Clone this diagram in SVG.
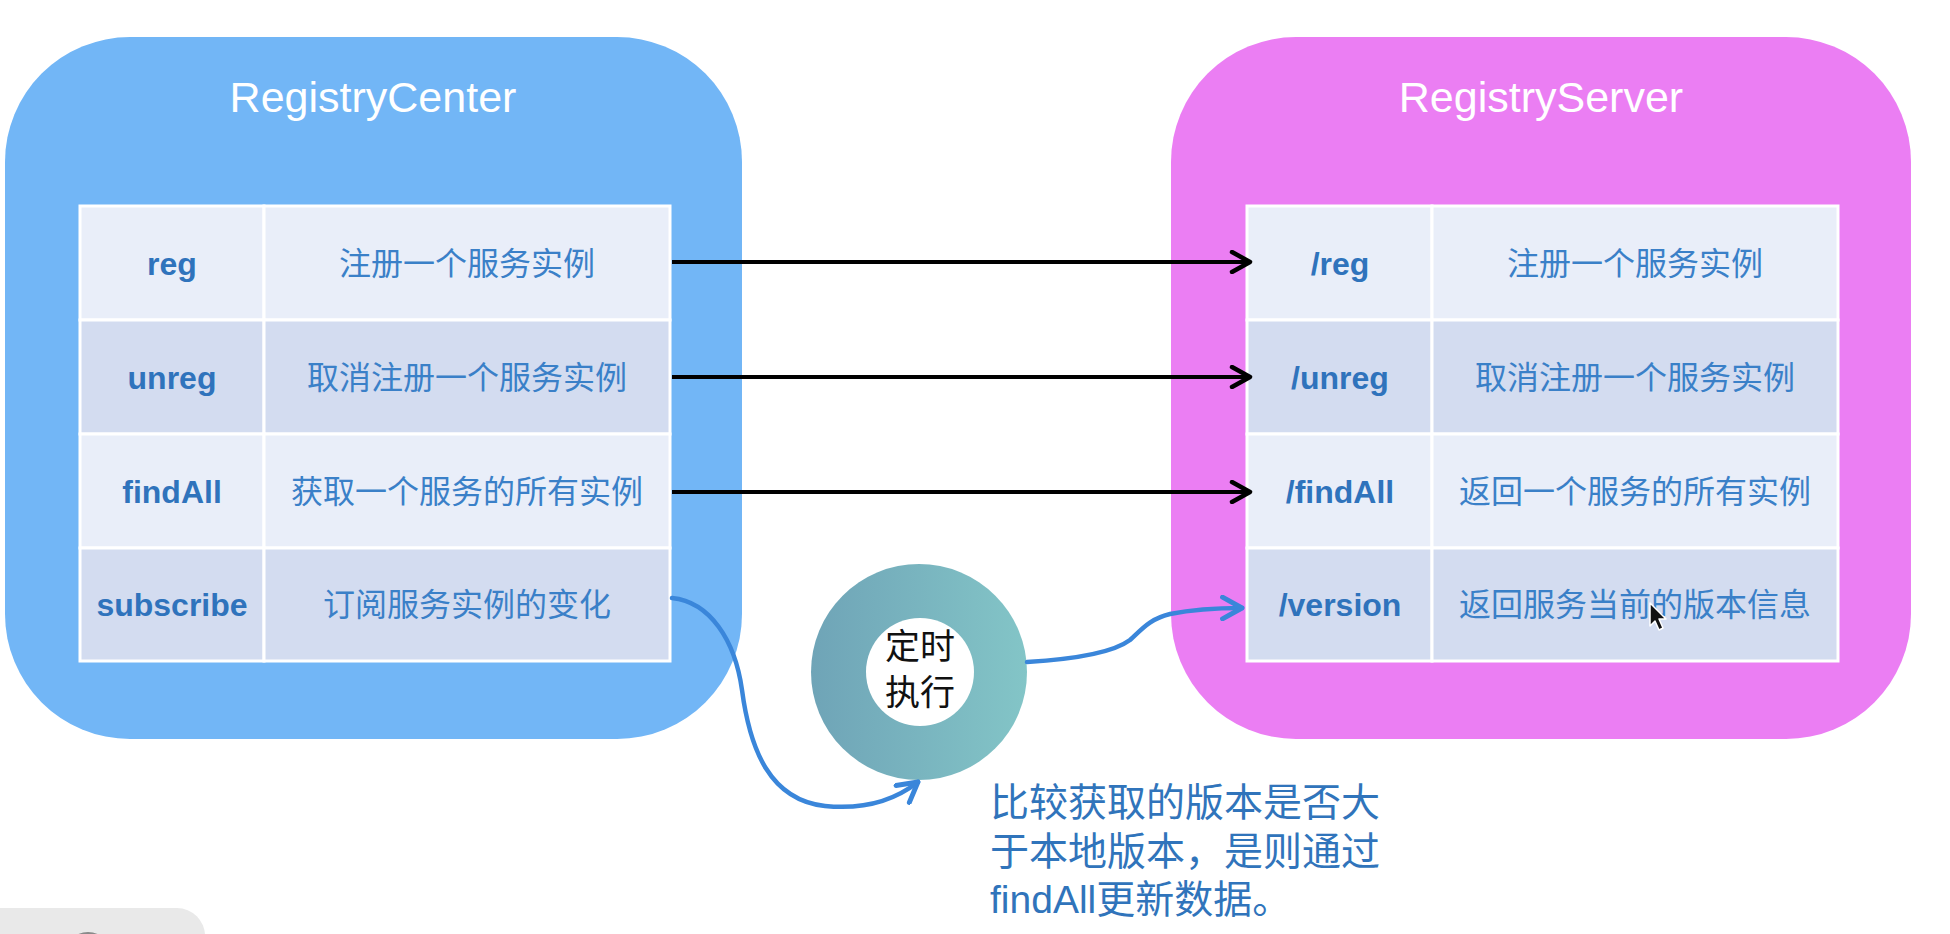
<svg xmlns="http://www.w3.org/2000/svg" width="1950" height="934" viewBox="0 0 1950 934">
<defs>
<style>
.title{font-family:"Liberation Sans","Noto Sans",sans-serif;font-size:43px;fill:#ffffff;text-anchor:middle}
.key{font-family:"Liberation Sans","Noto Sans",sans-serif;font-size:32px;font-weight:bold;fill:#2F73BC;text-anchor:middle}
.desc{font-family:"Liberation Sans","Noto Sans CJK SC",sans-serif;font-size:32px;fill:#3A80C8;text-anchor:middle}
.c1{fill:#E9EEF9;stroke:#ffffff;stroke-width:3}
.c2{fill:#D3DCF0;stroke:#ffffff;stroke-width:3}
.blk{fill:none;stroke:#000000;stroke-width:4}
.blu{fill:none;stroke:#3A86DA;stroke-width:4.5;stroke-linecap:round}
.note{font-family:"Liberation Sans","Noto Sans CJK SC",sans-serif;font-size:39px;fill:#3074BB}
.ring{font-family:"Liberation Sans","Noto Sans CJK SC",sans-serif;font-size:35px;fill:#111111;text-anchor:middle}
</style>
<marker id="ab" viewBox="0 0 24 24" refX="21" refY="12" markerWidth="24" markerHeight="24" markerUnits="userSpaceOnUse" orient="auto">
<path d="M3,2 L21,12 L3,22" fill="none" stroke="#000000" stroke-width="4.5" stroke-linecap="round" stroke-linejoin="round"/>
</marker>
<marker id="au" viewBox="0 0 24 24" refX="21" refY="12" markerWidth="26" markerHeight="26" markerUnits="userSpaceOnUse" orient="auto">
<path d="M3,2 L21,12 L3,22" fill="none" stroke="#3A86DA" stroke-width="4.5" stroke-linecap="round" stroke-linejoin="round"/>
</marker>
<linearGradient id="rg" gradientUnits="userSpaceOnUse" x1="811" y1="0" x2="1027" y2="0">
<stop offset="0" stop-color="#6FA4B7"/>
<stop offset="1" stop-color="#83C5C7"/>
</linearGradient>
</defs>
<rect width="1950" height="934" fill="#ffffff"/>

<g id="registry-center">
<rect x="5" y="37" width="737" height="702" rx="125" fill="#72B6F6"/>
<text class="title" x="373" y="112">RegistryCenter</text>
<rect class="c1" x="80" y="206" width="184" height="114"/>
<rect class="c1" x="264" y="206" width="406" height="114"/>
<rect class="c2" x="80" y="320" width="184" height="114"/>
<rect class="c2" x="264" y="320" width="406" height="114"/>
<rect class="c1" x="80" y="434" width="184" height="114"/>
<rect class="c1" x="264" y="434" width="406" height="114"/>
<rect class="c2" x="80" y="548" width="184" height="113"/>
<rect class="c2" x="264" y="548" width="406" height="113"/>
<text class="key" x="172" y="275">reg</text>
<text class="desc" x="467" y="275">注册一个服务实例</text>
<text class="key" x="172" y="389">unreg</text>
<text class="desc" x="467" y="389">取消注册一个服务实例</text>
<text class="key" x="172" y="503">findAll</text>
<text class="desc" x="467" y="503">获取一个服务的所有实例</text>
<text class="key" x="172" y="616">subscribe</text>
<text class="desc" x="467" y="616">订阅服务实例的变化</text>
</g>

<g id="registry-server">
<rect x="1171" y="37" width="740" height="702" rx="125" fill="#EB7EF3"/>
<text class="title" x="1541" y="112">RegistryServer</text>
<rect class="c1" x="1247" y="206" width="185" height="114"/>
<rect class="c1" x="1432" y="206" width="406" height="114"/>
<rect class="c2" x="1247" y="320" width="185" height="114"/>
<rect class="c2" x="1432" y="320" width="406" height="114"/>
<rect class="c1" x="1247" y="434" width="185" height="114"/>
<rect class="c1" x="1432" y="434" width="406" height="114"/>
<rect class="c2" x="1247" y="548" width="185" height="113"/>
<rect class="c2" x="1432" y="548" width="406" height="113"/>
<text class="key" x="1340" y="275">/reg</text>
<text class="desc" x="1635" y="275">注册一个服务实例</text>
<text class="key" x="1340" y="389">/unreg</text>
<text class="desc" x="1635" y="389">取消注册一个服务实例</text>
<text class="key" x="1340" y="503">/findAll</text>
<text class="desc" x="1635" y="503">返回一个服务的所有实例</text>
<text class="key" x="1340" y="616">/version</text>
<text class="desc" x="1635" y="616">返回服务当前的版本信息</text>
</g>

<g id="timer">
<circle cx="919" cy="672" r="108" fill="url(#rg)"/>
<circle cx="920" cy="672" r="54" fill="#ffffff"/>
<text class="ring" x="920" y="659">定时</text>
<text class="ring" x="920" y="705">执行</text>
</g>

<g id="note">
<text class="note" x="990" y="816">比较获取的版本是否大</text>
<text class="note" x="990" y="865">于本地版本，是则通过</text>
<text class="note" x="990" y="913">findAll更新数据。</text>
</g>

<g id="connectors">
<line class="blk" x1="672" y1="262" x2="1250" y2="262" marker-end="url(#ab)"/>
<line class="blk" x1="672" y1="377" x2="1250" y2="377" marker-end="url(#ab)"/>
<line class="blk" x1="672" y1="492" x2="1250" y2="492" marker-end="url(#ab)"/>
<path class="blu" d="M672,598 C710,602 735,640 742,690 C750,750 770,800 825,806 C865,810 895,800 918,782" marker-end="url(#au)"/>
<path class="blu" d="M1027,662 C1060,660 1110,655 1130,640 C1143,628 1150,619 1170,614 C1195,609 1220,608 1242,608" marker-end="url(#au)"/>
</g>

<g id="screen-artifacts">
<rect x="-30" y="908" width="235" height="70" rx="28" fill="#E9E9E9"/>
<circle cx="88" cy="957" r="25" fill="#8A8A8A"/>
<path d="M1650,603 L1650,626 L1655,621 L1659,630 L1663,628 L1659,619 L1666,619 Z" fill="#111111" stroke="#ffffff" stroke-width="1.5" stroke-linejoin="round"/>
</g>
</svg>
